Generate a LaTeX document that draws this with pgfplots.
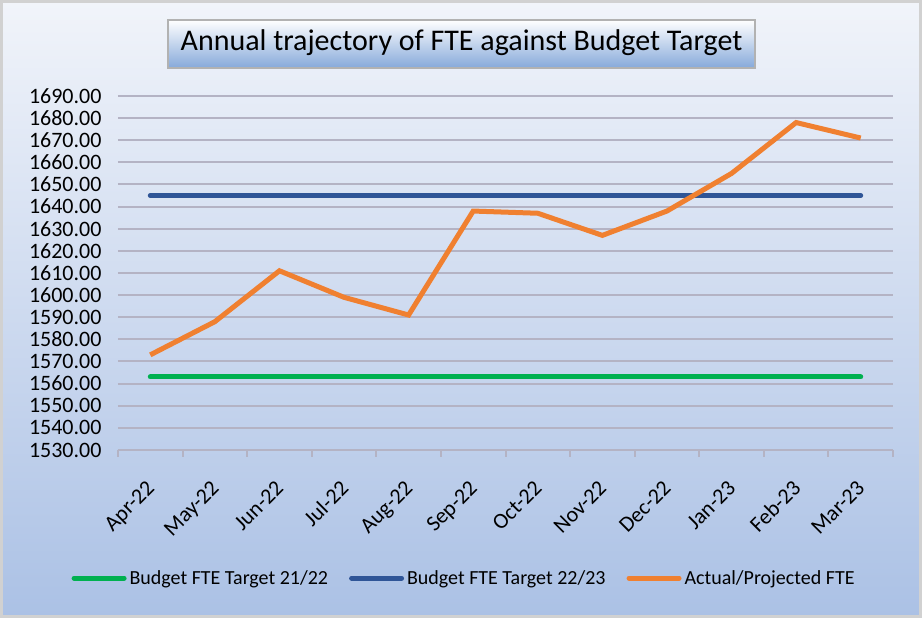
\documentclass[border=0pt]{standalone}
\usepackage{pgfplots}
\pgfplotsset{compat=1.18}
\usepackage{fontspec}
\setmainfont{Carlito}

\definecolor{bgtop}{HTML}{F1F4FA}
\definecolor{bgbot}{HTML}{ABC1E5}
\definecolor{gridc}{HTML}{B4B3C4}
\definecolor{titlebot}{HTML}{86A9DA}
\definecolor{fteGreen}{HTML}{00B050}
\definecolor{fteBlue}{HTML}{2F5597}
\definecolor{fteOrange}{HTML}{F08030}

\begin{document}
\begin{tikzpicture}
% chart background
\shadedraw[top color=bgtop, bottom color=bgbot, draw=black!18, line width=3pt]
    (-116.5pt,-166.5pt) rectangle (802.5pt,448.5pt);
% title box
\shadedraw[top color=white, bottom color=titlebot, draw=black!30, line width=1.2pt]
    (50pt,382pt) rectangle (637pt,430pt);
\node[font=\fontsize{30}{34}\selectfont] at (343.5pt,407pt) {Annual trajectory of FTE against Budget Target};

\begin{axis}[
    at={(0,0)}, anchor=south west,
    scale only axis,
    width=775pt, height=354pt,
    xmin=0.5, xmax=12.5,
    ymin=1530, ymax=1690,
    ytick distance=10,
    xtick={1,...,12},
    xticklabels={Apr-22,May-22,Jun-22,Jul-22,Aug-22,Sep-22,Oct-22,Nov-22,Dec-22,Jan-23,Feb-23,Mar-23},
    minor xtick={0.5,1.5,...,12.5},
    axis lines*=left,
    axis line style={gridc, line width=2pt},
    y axis line style={draw=none},
    major tick length=0pt,
    minor tick length=7pt,
    tick align=outside,
    minor tick style={gridc, line width=2pt},
    ymajorgrids,
    grid style={gridc, line width=2pt},
    tick label style={font=\fontsize{22}{26}\selectfont},
    /pgf/number format/assume math mode=true,
    yticklabel style={/pgf/number format/fixed, /pgf/number format/fixed zerofill,
        /pgf/number format/precision=2, /pgf/number format/1000 sep={}, xshift=-13pt},
    xticklabel style={rotate=45, anchor=north east, inner sep=0pt, xshift=-24pt, yshift=-17pt},
    legend columns=3,
    legend style={at={(-0.064,-0.362)}, anchor=west, draw=none, fill=none,
        font=\fontsize{20}{24}\selectfont, column sep=1pt,
        /tikz/every even column/.append style={column sep=19pt}},
    legend image code/.code={\draw[#1, line cap=round] (0pt,0pt) -- (50pt,0pt);},
    every axis plot/.append style={line width=5pt},
]
\addplot[fteGreen, line cap=round] coordinates {
    (1,1563) (2,1563) (3,1563) (4,1563) (5,1563) (6,1563)
    (7,1563) (8,1563) (9,1563) (10,1563) (11,1563) (12,1563)};
\addlegendentry{Budget FTE Target 21/22}
\addplot[fteBlue, line cap=round] coordinates {
    (1,1645) (2,1645) (3,1645) (4,1645) (5,1645) (6,1645)
    (7,1645) (8,1645) (9,1645) (10,1645) (11,1645) (12,1645)};
\addlegendentry{Budget FTE Target 22/23}
\addplot[fteOrange, line join=miter] coordinates {
    (1,1573) (2,1588) (3,1611) (4,1599) (5,1591) (6,1638)
    (7,1637) (8,1627) (9,1638) (10,1655) (11,1678) (12,1671)};
\addlegendentry{Actual/Projected FTE}
\end{axis}
\end{tikzpicture}
\end{document}
